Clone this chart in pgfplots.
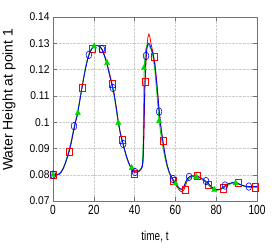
\documentclass[border=0pt]{standalone}
\usepackage{graphicx}
\usepackage{pgfplots}
\pgfplotsset{compat=1.18}
\usepackage{fontspec}
\setmainfont{Liberation Sans}
\definecolor{mygreen}{RGB}{0,215,0}
\definecolor{axgray}{RGB}{115,115,115}

\pgfplotstableread{
t v
0 0.0800
2 0.0800
3 0.0802
4 0.0810
5 0.0823
6 0.0842
7 0.0866
8 0.0893
9 0.0925
10 0.0965
11 0.1000
12 0.1030
13 0.1075
14 0.1120
15 0.1165
16 0.1205
17 0.1240
18 0.1263
19 0.1278
20 0.1287
21 0.1291
22 0.1291
23 0.1287
24 0.1277
25 0.1258
26 0.1235
27 0.1205
28 0.1172
29 0.1140
30 0.1105
31 0.1055
32 0.1000
33 0.0958
34 0.0927
35 0.0897
36 0.0870
37 0.0847
38 0.0830
39 0.0816
40 0.0810
41 0.0810
42 0.0813
43 0.0820
43.8 0.0832
44.2 0.0870
44.6 0.1000
45 0.1130
45.5 0.1240
46 0.1280
46.5 0.1296
47 0.1300
47.5 0.1295
48 0.1282
49 0.1262
50 0.1215
51 0.1135
52 0.1045
53 0.0975
54 0.0920
55 0.0873
56 0.0836
57 0.0810
58 0.0793
59 0.0780
60 0.0768
61 0.0757
62 0.0748
63 0.0745
64 0.0752
65 0.0772
66 0.0787
67 0.0793
68 0.0796
70 0.0795
72 0.0790
74 0.0781
76 0.0768
78 0.0752
80 0.0743
82 0.0745
84 0.0756
86 0.0766
88 0.0770
90 0.0768
92 0.0762
94 0.0757
96 0.0755
100 0.0755
}\bluedata

\pgfplotstableread{
t v
0 0.0800
2 0.0800
3 0.0802
4 0.0810
5 0.0823
6 0.0842
7 0.0864
8 0.0890
9 0.0922
10 0.0962
11 0.0998
12 0.1030
13 0.1077
14 0.1125
15 0.1168
16 0.1208
17 0.1243
18 0.1266
19 0.1280
20 0.1289
21 0.1292
22 0.1291
23 0.1287
24 0.1279
25 0.1261
26 0.1238
27 0.1208
28 0.1176
29 0.1144
30 0.1108
31 0.1058
32 0.1003
33 0.0960
34 0.0930
35 0.0899
36 0.0871
37 0.0848
38 0.0830
39 0.0814
40 0.0807
41 0.0808
42 0.0812
43 0.0819
43.8 0.0830
44.2 0.0850
44.6 0.0950
45 0.1125
45.5 0.1215
46 0.1280
46.5 0.1322
47 0.1335
47.5 0.1325
48 0.1300
49 0.1265
50 0.1220
51 0.1140
52 0.1048
53 0.0975
54 0.0920
55 0.0872
56 0.0834
57 0.0807
58 0.0788
59 0.0774
60 0.0762
61 0.0752
62 0.0740
63 0.0735
64 0.0740
65 0.0760
66 0.0780
68 0.0793
70 0.0796
72 0.0790
74 0.0778
76 0.0762
78 0.0748
80 0.0742
82 0.0744
84 0.0752
86 0.0764
88 0.0770
90 0.0770
92 0.0762
94 0.0755
96 0.0752
100 0.0752
}\reddata

\pgfplotstableread{
t v
0 0.0800
2 0.0800
3 0.0803
4 0.0812
5 0.0826
6 0.0846
7 0.0870
8 0.0898
9 0.0930
10 0.0970
11 0.1004
12 0.1034
13 0.1080
14 0.1125
15 0.1170
16 0.1210
17 0.1244
18 0.1267
19 0.1281
20 0.1289
21 0.1292
22 0.1291
23 0.1286
24 0.1275
25 0.1255
26 0.1232
27 0.1202
28 0.1168
29 0.1135
30 0.1098
31 0.1048
32 0.0997
33 0.0955
34 0.0924
35 0.0894
36 0.0867
37 0.0845
38 0.0829
39 0.0818
40 0.0812
41 0.0811
42 0.0814
43 0.0821
43.8 0.0838
44.2 0.0920
44.6 0.1180
45 0.1245
45.5 0.1280
46 0.1292
46.5 0.1295
47 0.1293
48 0.1278
49 0.1250
50 0.1190
51 0.1100
52 0.1005
53 0.0945
54 0.0898
55 0.0860
56 0.0829
57 0.0806
58 0.0790
59 0.0778
60 0.0768
61 0.0755
62 0.0745
63 0.0743
64 0.0748
65 0.0768
66 0.0782
68 0.0793
70 0.0792
72 0.0787
74 0.0778
76 0.0762
78 0.0748
80 0.0741
82 0.0743
84 0.0752
86 0.0762
88 0.0768
90 0.0767
92 0.0761
94 0.0756
96 0.0755
100 0.0755
}\greendata

\begin{document}
\begin{tikzpicture}
\begin{axis}[
  name=ax,
  scale only axis,
  width=204bp, height=184bp,
  xmin=0, xmax=100, ymin=0.07, ymax=0.14,
  xtick={0,20,...,100},
  ytick={0.07,0.08,...,0.14},
  /pgf/number format/assume math mode=true,
  yticklabel style={/pgf/number format/fixed,/pgf/number format/precision=2,
    font=\fontsize{10.3}{12}\selectfont},
  yticklabel={\scalebox{1}[1.1]{\pgfmathprintnumber{\tick}}},
  xticklabel style={font=\fontsize{10.2}{12}\selectfont, yshift=-1bp},
  xticklabel={\scalebox{1}[1.3]{\pgfmathprintnumber{\tick}}},
  xlabel={\scalebox{1}[1.3]{time, t}},
  ylabel={Water Height at point 1},
  every axis x label/.style={at={(rel axis cs:0.5,0)}, anchor=center, yshift=-36bp,
    font=\fontsize{10}{12}\selectfont},
  every axis y label/.style={at={(rel axis cs:0,0.55)}, xshift=-44bp, rotate=90, anchor=center,
    font=\fontsize{14}{16}\selectfont},
  grid=major,
  major grid style={densely dotted, gray!40},
  axis line style={axgray},
  tick style={axgray},
  tick align=inside,
  major tick length=4bp,
  clip=true,
]
\addplot[red, line width=0.8pt, no marks] table[x=t,y=v] {\reddata};
\addplot[mygreen, line width=0.8pt, no marks] table[x=t,y=v] {\greendata};

\addplot[only marks, mark=square, red, mark size=3.6bp, line width=0.6pt, mark options={xscale=0.85}] coordinates {
(0,0.080) (7.8,0.0886) (14.2,0.113) (19.1,0.1278) (24,0.128) (29,0.1145) (33.9,0.0932) (39.7,0.0805) (45.1,0.1153) (49.5,0.1248) (53.9,0.0928) (58.8,0.0776) (64.7,0.0742) (70.6,0.0795) (76,0.0762) (83.3,0.0748) (90.7,0.0769) (99,0.0752)
};
\addplot[only marks, mark=triangle*, mygreen, mark size=3.5bp, mark options={xscale=0.85}] coordinates {
(0,0.080) (12.2,0.1035) (20.2,0.1288) (26.5,0.1225) (32,0.0997) (38.6,0.0826) (44.6,0.1206) (52,0.1004) (60,0.0768) (70.2,0.0792) (79,0.0743) (89.5,0.0768)
};
\addplot[blue, line width=0.8pt, no marks] table[x=t,y=v] {\bluedata};
\addplot[only marks, mark=o, blue, mark size=3.8bp, line width=0.6pt, mark options={xscale=0.75}] coordinates {
(0,0.080) (10.3,0.0985) (17.6,0.1256) (24,0.1278) (29.4,0.113) (34.4,0.0917) (40.2,0.081) (45.6,0.1252) (52,0.104) (58.8,0.0784) (66.7,0.0792) (75,0.0776) (84.3,0.0759) (96,0.0755)
};
\end{axis}
\pgfresetboundingbox
\path[use as bounding box] ([shift={(-53bp,-48bp)}]ax.south west) rectangle ([shift={(17bp,17bp)}]ax.north east);
\end{tikzpicture}
\end{document}
